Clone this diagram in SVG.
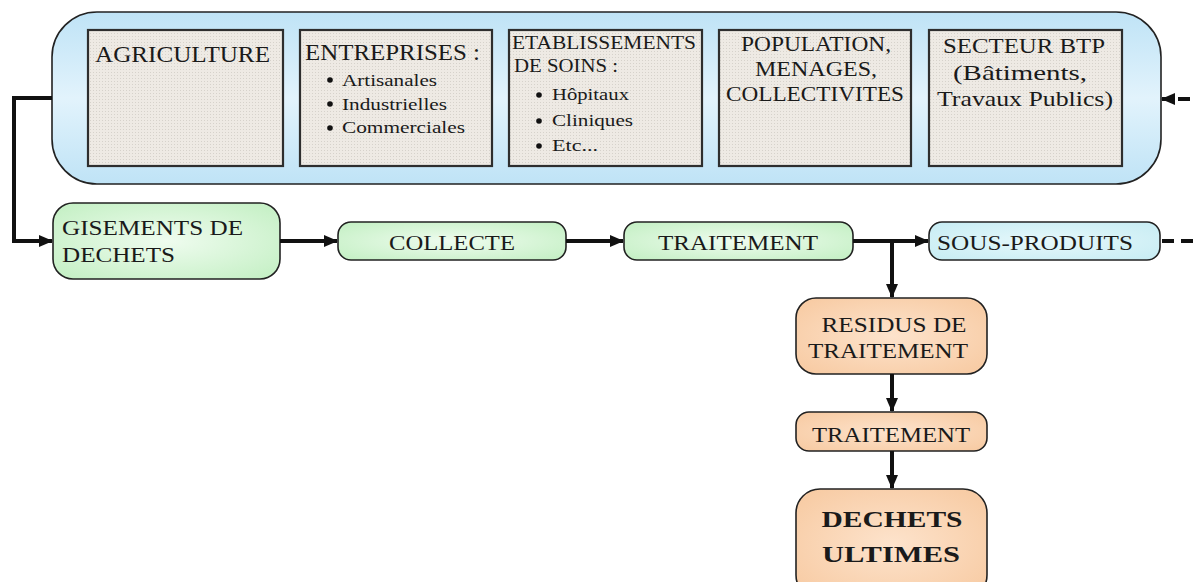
<svg xmlns="http://www.w3.org/2000/svg" width="1194" height="582" viewBox="0 0 1194 582" font-family="'Liberation Serif', 'DejaVu Serif', serif">
<defs>
  <linearGradient id="gBlue" x1="0" y1="0" x2="0" y2="1">
    <stop offset="0" stop-color="#bfe3f6"/>
    <stop offset="0.5" stop-color="#e2f3fc"/>
    <stop offset="1" stop-color="#bfe3f6"/>
  </linearGradient>
  <radialGradient id="gGreen" cx="0.5" cy="0.5" r="0.7">
    <stop offset="0" stop-color="#effcef"/>
    <stop offset="1" stop-color="#c2efc2"/>
  </radialGradient>
  <radialGradient id="gOrange" cx="0.5" cy="0.5" r="0.7">
    <stop offset="0" stop-color="#fde3cc"/>
    <stop offset="1" stop-color="#f7c9a0"/>
  </radialGradient>
  <radialGradient id="gCyan" cx="0.5" cy="0.5" r="0.7">
    <stop offset="0" stop-color="#e6f8fb"/>
    <stop offset="1" stop-color="#c6ecf3"/>
  </radialGradient>
  <pattern id="dots" width="3" height="3" patternUnits="userSpaceOnUse">
    <rect width="3" height="3" fill="#eeeae4"/>
    <rect width="1" height="1" fill="#d6d2cb"/>
  </pattern>
  <marker id="arr" markerUnits="userSpaceOnUse" markerWidth="14" markerHeight="12" refX="13" refY="6" orient="auto">
    <path d="M0,0 L14,6 L0,12 Z" fill="#111"/>
  </marker>
</defs>
<style>
  text { font-family: "Liberation Serif", "DejaVu Serif", serif; fill: #1a1a1a; }
  .src { fill: url(#dots); stroke: #2e2e2e; stroke-width: 2.2; }
  .flow { stroke: #222; stroke-width: 1.6; }
  .conn { fill: none; stroke: #111; stroke-width: 4; }
  .dash { fill: none; stroke: #111; stroke-width: 4; stroke-dasharray: 12 7; }
</style>

<g id="sources">
  <rect x="52" y="12" width="1109" height="172" rx="45" ry="45" fill="url(#gBlue)" stroke="#222" stroke-width="1.6"/>
</g>

<g id="agriculture">
  <rect class="src" x="88" y="30" width="195" height="136"/>
  <text x="95" y="62" font-size="23" textLength="175" lengthAdjust="spacingAndGlyphs">AGRICULTURE</text>
</g>

<g id="entreprises">
  <rect class="src" x="300" y="30" width="192" height="136"/>
  <text x="305" y="60" font-size="23" textLength="175" lengthAdjust="spacingAndGlyphs">ENTREPRISES :</text>
  <circle cx="330" cy="80" r="2.8" fill="#111"/>
  <text x="342" y="86" font-size="17" textLength="95" lengthAdjust="spacingAndGlyphs">Artisanales</text>
  <circle cx="330" cy="104" r="2.8" fill="#111"/>
  <text x="342" y="110" font-size="17" textLength="105" lengthAdjust="spacingAndGlyphs">Industrielles</text>
  <circle cx="330" cy="128" r="2.8" fill="#111"/>
  <text x="342" y="133" font-size="17" textLength="123" lengthAdjust="spacingAndGlyphs">Commerciales</text>
</g>

<g id="etablissements">
  <rect class="src" x="509" y="30" width="193" height="136"/>
  <text x="512" y="49" font-size="19" textLength="184" lengthAdjust="spacingAndGlyphs">ETABLISSEMENTS</text>
  <text x="514" y="72" font-size="19" textLength="104" lengthAdjust="spacingAndGlyphs">DE SOINS :</text>
  <circle cx="539" cy="95" r="2.8" fill="#111"/>
  <text x="552" y="100" font-size="17" textLength="77" lengthAdjust="spacingAndGlyphs">Hôpitaux</text>
  <circle cx="539" cy="121" r="2.8" fill="#111"/>
  <text x="552" y="126" font-size="17" textLength="81" lengthAdjust="spacingAndGlyphs">Cliniques</text>
  <circle cx="539" cy="146" r="2.8" fill="#111"/>
  <text x="552" y="151" font-size="17" textLength="46" lengthAdjust="spacingAndGlyphs">Etc...</text>
</g>

<g id="population">
  <rect class="src" x="719" y="30" width="192" height="136"/>
  <text x="816" y="51" font-size="21" text-anchor="middle" textLength="150" lengthAdjust="spacingAndGlyphs">POPULATION,</text>
  <text x="816" y="76" font-size="21" text-anchor="middle" textLength="122" lengthAdjust="spacingAndGlyphs">MENAGES,</text>
  <text x="815" y="101" font-size="21" text-anchor="middle" textLength="178" lengthAdjust="spacingAndGlyphs">COLLECTIVITES</text>
</g>

<g id="btp">
  <rect class="src" x="929" y="30" width="193" height="136"/>
  <text x="1024" y="53" font-size="21" text-anchor="middle" textLength="162" lengthAdjust="spacingAndGlyphs">SECTEUR BTP</text>
  <text x="1020" y="80" font-size="21" text-anchor="middle" textLength="134" lengthAdjust="spacingAndGlyphs">(Bâtiments,</text>
  <text x="1025" y="106" font-size="21" text-anchor="middle" textLength="176" lengthAdjust="spacingAndGlyphs">Travaux Publics)</text>
</g>

<g id="gisements">
  <rect class="flow" x="53" y="203" width="227" height="76" rx="20" fill="url(#gGreen)"/>
  <text x="62" y="235" font-size="22" textLength="181" lengthAdjust="spacingAndGlyphs">GISEMENTS DE</text>
  <text x="62" y="262" font-size="22" textLength="113" lengthAdjust="spacingAndGlyphs">DECHETS</text>
</g>

<g id="collecte">
  <rect class="flow" x="338" y="222" width="228" height="38" rx="13" fill="url(#gGreen)"/>
  <text x="452" y="250" font-size="20" text-anchor="middle" textLength="126" lengthAdjust="spacingAndGlyphs">COLLECTE</text>
</g>

<g id="traitement1">
  <rect class="flow" x="624" y="222" width="229" height="38" rx="13" fill="url(#gGreen)"/>
  <text x="738" y="250" font-size="20" text-anchor="middle" textLength="160" lengthAdjust="spacingAndGlyphs">TRAITEMENT</text>
</g>

<g id="sousproduits">
  <rect class="flow" x="929" y="222" width="231" height="38" rx="13" fill="url(#gCyan)"/>
  <text x="937" y="250" font-size="20" textLength="196" lengthAdjust="spacingAndGlyphs">SOUS-PRODUITS</text>
</g>

<g id="residus">
  <rect class="flow" x="796" y="298" width="191" height="76" rx="20" fill="url(#gOrange)"/>
  <text x="894" y="332" font-size="21" text-anchor="middle" textLength="145" lengthAdjust="spacingAndGlyphs">RESIDUS DE</text>
  <text x="888" y="358" font-size="21" text-anchor="middle" textLength="160" lengthAdjust="spacingAndGlyphs">TRAITEMENT</text>
</g>

<g id="traitement2">
  <rect class="flow" x="796" y="412" width="191" height="39" rx="13" fill="url(#gOrange)"/>
  <text x="891" y="442" font-size="21" text-anchor="middle" textLength="158" lengthAdjust="spacingAndGlyphs">TRAITEMENT</text>
</g>

<g id="ultimes">
  <rect class="flow" x="796" y="489" width="191" height="110" rx="24" fill="url(#gOrange)"/>
  <text x="892" y="527" font-size="24" font-weight="bold" text-anchor="middle" textLength="141" lengthAdjust="spacingAndGlyphs">DECHETS</text>
  <text x="891" y="562" font-size="24" font-weight="bold" text-anchor="middle" textLength="138" lengthAdjust="spacingAndGlyphs">ULTIMES</text>
</g>

<g id="connectors">
  <path class="conn" d="M52,98 H14 V241 H52" marker-end="url(#arr)"/>
  <path class="conn" d="M280,241 H337" marker-end="url(#arr)"/>
  <path class="conn" d="M566,241 H623" marker-end="url(#arr)"/>
  <path class="conn" d="M853,241 H928" marker-end="url(#arr)"/>
  <path class="conn" d="M892,241 V297" marker-end="url(#arr)"/>
  <path class="conn" d="M892,374 V411" marker-end="url(#arr)"/>
  <path class="conn" d="M892,451 V488" marker-end="url(#arr)"/>
  <path class="dash" d="M1162,241 H1200 V99 H1162" marker-end="url(#arr)"/>
</g>
</svg>
